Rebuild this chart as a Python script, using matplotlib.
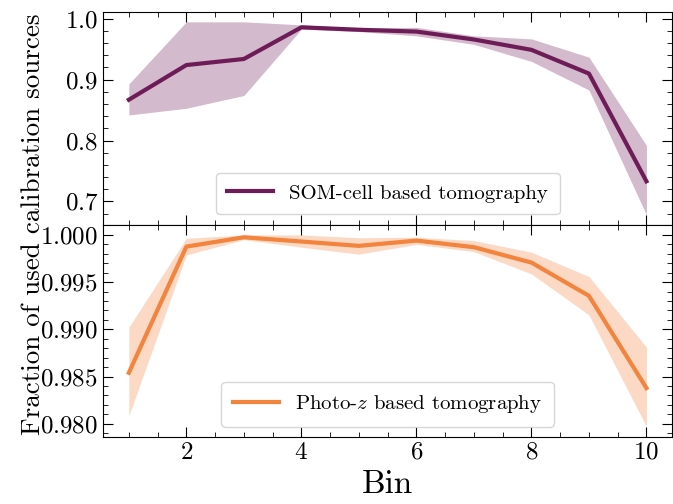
import matplotlib
matplotlib.use("Agg")
from matplotlib import pyplot as plt
from matplotlib.ticker import MultipleLocator
import numpy as np

plt.rcParams["font.family"] = "serif"
plt.rcParams["font.serif"] = ["cmr10"]
plt.rcParams["mathtext.fontset"] = "cm"
plt.rcParams["axes.formatter.use_mathtext"] = True

bins = [1, 2, 3, 4, 5, 6, 7, 8, 9, 10]

# SOM-cell based tomography
som_mid = [0.867, 0.924, 0.934, 0.986, 0.982, 0.979, 0.966, 0.949, 0.910, 0.733]
som_lo = [0.842, 0.853, 0.874, 0.983, 0.979, 0.972, 0.958, 0.930, 0.883, 0.678]
som_hi = [0.893, 0.995, 0.995, 0.990, 0.985, 0.986, 0.972, 0.967, 0.937, 0.792]

# Photo-z based tomography
pz_mid = [0.9854, 0.99876, 0.99975, 0.9993, 0.99884, 0.9994, 0.9987, 0.99707, 0.99355, 0.98378]
pz_lo = [0.98085, 0.99788, 0.9995, 0.9987, 0.99796, 0.9990, 0.99823, 0.99587, 0.99153, 0.97971]
pz_hi = [0.99023, 0.99965, 1.0000, 1.0000, 0.9997, 0.99975, 0.9994, 0.99817, 0.99559, 0.98812]

purple = "#6e1c57"
orange = "#f2843d"

fig, (ax1, ax2) = plt.subplots(2, 1, figsize=(6.73, 5.04), dpi=100, sharex=True)
fig.subplots_adjust(left=0.153, right=0.999, top=0.976, bottom=0.133, hspace=0)

ax1.fill_between(bins, som_lo, som_hi, color=purple, alpha=0.3, lw=0)
ax1.plot(bins, som_mid, color=purple, lw=3, label="SOM-cell based tomography")
ax1.set_ylim(0.662, 1.011)
ax1.yaxis.set_major_locator(MultipleLocator(0.1))
ax1.yaxis.set_minor_locator(MultipleLocator(0.02))
ax1.legend(loc="lower center", fontsize=15, fancybox=True, framealpha=0.8,
           handlelength=2.2, borderpad=0.55)

ax2.fill_between(bins, pz_lo, pz_hi, color=orange, alpha=0.3, lw=0)
ax2.plot(bins, pz_mid, color=orange, lw=3, label="Photo-$z$ based tomography")
ax2.set_ylim(0.9786, 1.0011)
ax2.yaxis.set_major_locator(MultipleLocator(0.005))
ax2.yaxis.set_minor_locator(MultipleLocator(0.001))
ax2.legend(loc="lower center", fontsize=15, fancybox=True, framealpha=0.8,
           handlelength=2.2, borderpad=0.55)

ax2.xaxis.set_major_locator(MultipleLocator(2))
ax2.xaxis.set_minor_locator(MultipleLocator(0.5))

for ax in (ax1, ax2):
    ax.tick_params(which="both", direction="in", top=True, right=True, labelsize=18)
    ax.tick_params(which="major", length=7)
    ax.tick_params(which="minor", length=3.5)

ax2.set_xlabel("Bin", fontsize=24)
fig.supylabel("Fraction of used calibration sources", fontsize=19.5, x=0.032, y=0.556)

fig.savefig("out.png", dpi=100)
